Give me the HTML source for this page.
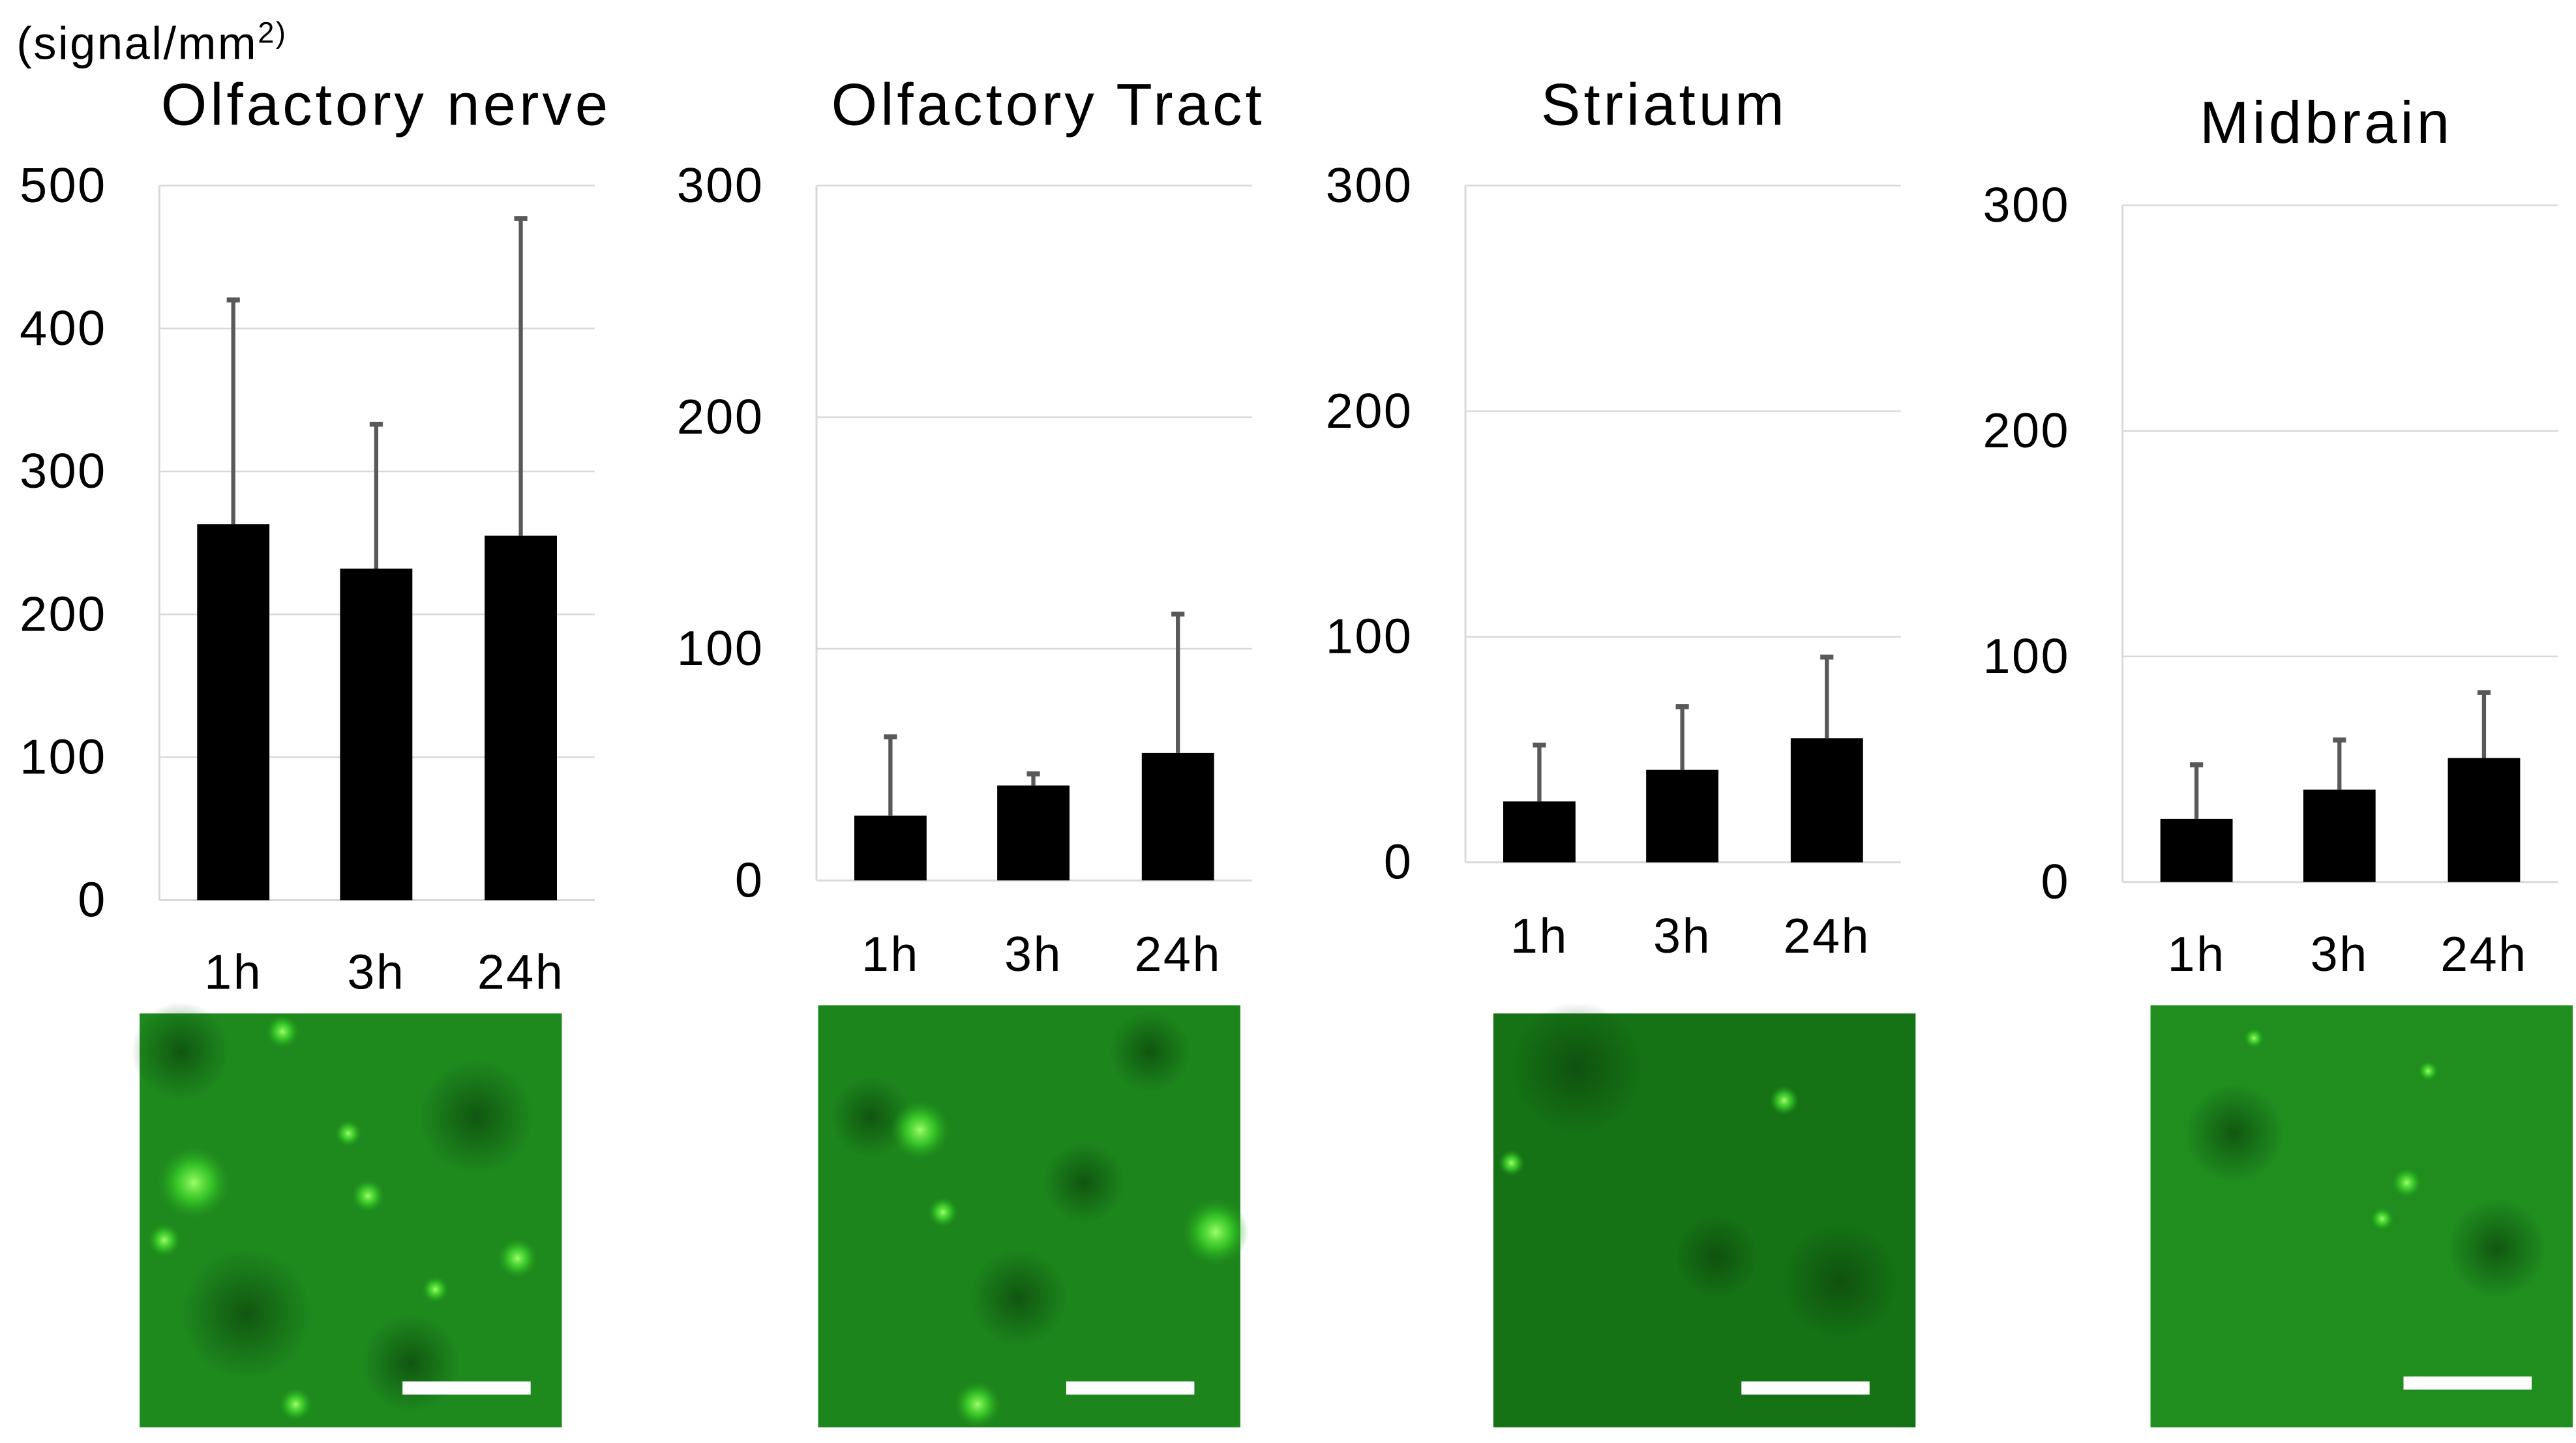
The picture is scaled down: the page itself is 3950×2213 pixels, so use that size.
<!DOCTYPE html>
<html><head><meta charset="utf-8"><style>
html,body{margin:0;padding:0;background:#fff;}
svg{display:block;}
text{font-family:"Liberation Sans","Noto Sans CJK JP",sans-serif;fill:#000;}
</style></head><body>
<svg id="fig" width="3950" height="2213" viewBox="0 0 1568 878.5" preserveAspectRatio="none" xmlns="http://www.w3.org/2000/svg">
<defs>
<radialGradient id="spot"><stop offset="0" stop-color="#9dff6a"/><stop offset="0.5" stop-color="#3fdc2a" stop-opacity="0.7"/><stop offset="1" stop-color="#2aa020" stop-opacity="0"/></radialGradient>
<radialGradient id="dark"><stop offset="0" stop-color="#0d4a0d" stop-opacity="0.8"/><stop offset="1" stop-color="#0d4a0d" stop-opacity="0"/></radialGradient>
</defs>
<text x="10" y="36" font-size="28" letter-spacing="1">(signal/mm<tspan font-size="18" dy="-10">2)</tspan></text>
<g id="charts"></g>
<g id="images"></g>
</svg>
<script>
const categories = ["1h","3h","24h"];
const titles = ["Olfactory nerve","Olfactory Tract","Striatum","Midbrain"];
const meansNerve = [263,232,255];
const errNerve = [420,333,477];
const meansTract = [28,41,55];
const errTract = [62,46,115];
const meansStriatum = [27,41,55];
const errStriatum = [52,69,91];
const meansMidbrain = [28,41,55];
const errMidbrain = [52,63,84];
const ticksNerve = [0,100,200,300,400,500];
const ticksOther = [0,100,200,300];

const NS="http://www.w3.org/2000/svg";
function mk(tag, attrs, parent){const e=document.createElementNS(NS,tag);for(const k in attrs)e.setAttribute(k,attrs[k]);parent.appendChild(e);return e;}
const panels=[
 {means:meansNerve,errs:errNerve,ticks:ticksNerve,left:97,right:362,top:113,bottom:548,titleX:235,titleY:76,xlY:602,tickX:65,slug:"olfactory-nerve"},
 {means:meansTract,errs:errTract,ticks:ticksOther,left:497,right:762,top:113,bottom:536,titleX:638,titleY:76,xlY:591,tickX:465,slug:"olfactory-tract"},
 {means:meansStriatum,errs:errStriatum,ticks:ticksOther,left:892,right:1157,top:113,bottom:525,titleX:1013,titleY:76,xlY:580,tickX:860,slug:"striatum"},
 {means:meansMidbrain,errs:errMidbrain,ticks:ticksOther,left:1292,right:1557,top:125,bottom:537,titleX:1416,titleY:87,xlY:591,tickX:1260,slug:"midbrain"}
];
const charts=document.getElementById('charts');
panels.forEach((p,pi)=>{
  const g=mk('g',{},charts);
  
  
  const maxV=p.ticks[p.ticks.length-1];
  const y=v=>p.bottom-(v/maxV)*(p.bottom-p.top);
  const t=mk('text',{x:p.titleX,y:p.titleY,'font-size':36,'text-anchor':'middle','letter-spacing':2},g);
  t.textContent=titles[pi];
  
  
  p.ticks.forEach(v=>{
    if(v>0){const gl=mk('line',{x1:p.left,x2:p.right,y1:y(v),y2:y(v),stroke:'#d9d9d9','stroke-width':1},g);
      
      }
    const tl=mk('text',{x:p.tickX,y:y(v)+10,'font-size':30,'text-anchor':'end','letter-spacing':1},g);
    tl.textContent=v;
    
    
  });
  const ax=mk('line',{x1:p.left,x2:p.left,y1:p.top,y2:p.bottom,stroke:'#d9d9d9','stroke-width':1.2},g);
  
  
  const bx=mk('line',{x1:p.left,x2:p.right,y1:p.bottom,y2:p.bottom,stroke:'#d9d9d9','stroke-width':1.2},g);
  
  
  categories.forEach((c,i)=>{
    const cxAdj=[142,229,317][i]-97+p.left;
    const b=mk('rect',{x:cxAdj-22,y:y(p.means[i]),width:44,height:p.bottom-y(p.means[i]),fill:'#000'},g);
    
    
    const e=mk('line',{x1:cxAdj,x2:cxAdj,y1:y(p.means[i]),y2:y(p.errs[i]),stroke:'#595959','stroke-width':2.5},g);
    
    
    const cap=mk('line',{x1:cxAdj-4,x2:cxAdj+4,y1:y(p.errs[i]),y2:y(p.errs[i]),stroke:'#595959','stroke-width':3},g);
    
    
    const xl=mk('text',{x:cxAdj,y:p.xlY,'font-size':30,'text-anchor':'middle','letter-spacing':1},g);
    xl.textContent=c;
    
    
  });
});
const imgs=[
 {x:85,y:617,w:257,h:252,fill:'#1e8a1e',bar:[245,323,845],spots:[[118,720,22],[212,690,8],[224,728,10],[315,766,12],[172,628,10],[100,755,10],[180,855,10],[265,785,8]],darks:[[150,800,40],[290,680,35],[110,640,30],[250,830,30]]},
 {x:498,y:612,w:257,h:257,fill:'#1c861c',bar:[649,727,845],spots:[[574,738,9],[595,855,14],[560,688,18],[740,750,20]],darks:[[530,680,25],[620,790,30],[700,640,25],[660,720,25]]},
 {x:909,y:617,w:257,h:252,fill:'#157215',bar:[1060,1138,845],spots:[[1086,670,9],[920,708,8]],darks:[[1045,765,25],[960,650,40],[1120,780,35]]},
 {x:1309,y:612,w:257,h:257,fill:'#1f8e1f',bar:[1463,1541,842],spots:[[1478,652,6],[1465,720,9],[1450,742,7],[1372,632,6]],darks:[[1360,690,30],[1520,760,30]]}
];
const ig=document.getElementById('images');
imgs.forEach((m,i)=>{
  const g=mk('g',{},ig);
  
  
  mk('rect',{x:m.x,y:m.y,width:m.w,height:m.h,fill:m.fill},g);
  m.darks.forEach(d=>mk('circle',{cx:d[0],cy:d[1],r:d[2],fill:'url(#dark)'},g));
  m.spots.forEach(s=>mk('circle',{cx:s[0],cy:s[1],r:s[2],fill:'url(#spot)'},g));
  const sb=mk('rect',{x:m.bar[0],y:m.bar[2]-4,width:m.bar[1]-m.bar[0],height:8,fill:'#fff'},g);
  
  
});
</script>
</body></html>
